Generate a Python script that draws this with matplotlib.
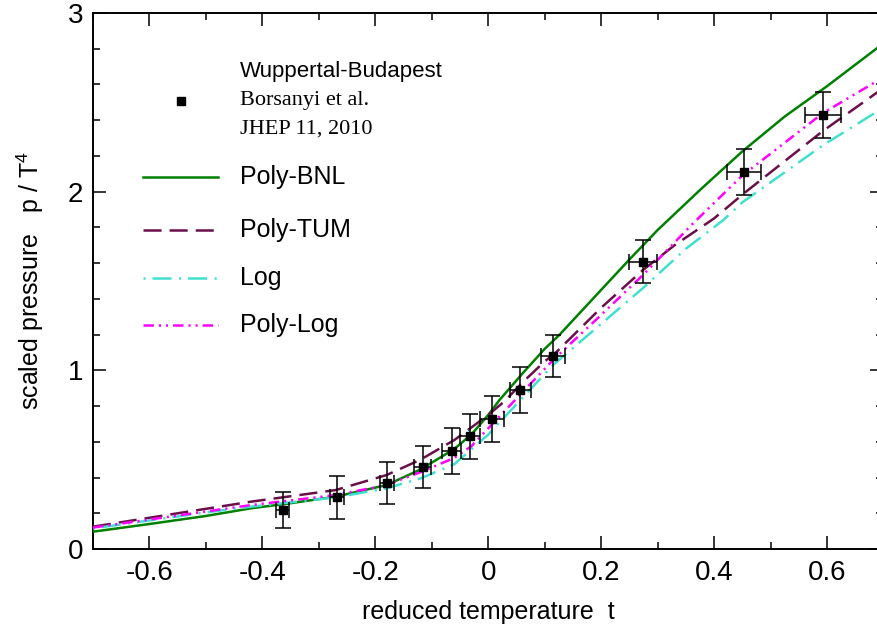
import matplotlib.pyplot as plt
from matplotlib.ticker import MultipleLocator, FuncFormatter

plt.rcParams['font.family'] = ['Liberation Sans', 'DejaVu Sans']
plt.rcParams['mathtext.default'] = 'regular'
plt.rcParams['lines.scale_dashes'] = False

# lattice data (Wuppertal-Budapest)
lat_t = [-0.364, -0.268, -0.179, -0.116, -0.0645, -0.032, 0.0065, 0.057, 0.1146, 0.274, 0.4527, 0.593]
lat_p = [0.218, 0.289, 0.371, 0.459, 0.548, 0.631, 0.729, 0.888, 1.080, 1.608, 2.111, 2.430]
lat_dp = [0.10, 0.12, 0.118, 0.12, 0.128, 0.127, 0.128, 0.129, 0.12, 0.12, 0.13, 0.13]
lat_dt = [0.012, 0.012, 0.013, 0.015, 0.017, 0.018, 0.021, 0.018, 0.022, 0.025, 0.03, 0.032]

# parametrisations
bnl_t = [-0.7, -0.6, -0.5, -0.42, -0.36, -0.27, -0.18, -0.12, -0.06, -0.03, 0.0, 0.02,
         0.06, 0.1, 0.126, 0.15, 0.2, 0.25, 0.3, 0.375, 0.45, 0.525, 0.6, 0.7]
bnl_p = [0.097, 0.14, 0.185, 0.228, 0.252, 0.293, 0.358, 0.445, 0.56, 0.64, 0.75, 0.834,
         0.98, 1.12, 1.198, 1.28, 1.45, 1.62, 1.785, 2.009, 2.225, 2.42, 2.59, 2.83]

tum_t = [-0.7, -0.6, -0.5, -0.42, -0.27, -0.18, -0.12, -0.06, -0.03, 0.0, 0.03, 0.06,
         0.1, 0.12, 0.2, 0.274, 0.33, 0.4, 0.4527, 0.593, 0.7]
tum_p = [0.125, 0.175, 0.225, 0.265, 0.33, 0.414, 0.50, 0.61, 0.68, 0.75, 0.83, 0.93,
         1.05, 1.10, 1.35, 1.561, 1.70, 1.85, 1.99, 2.34, 2.58]

log_t = [-0.7, -0.6, -0.5, -0.42, -0.27, -0.18, -0.12, -0.06, 0.0, 0.057, 0.115, 0.2,
         0.274, 0.35, 0.416, 0.45, 0.593, 0.7]
log_p = [0.115, 0.16, 0.205, 0.237, 0.289, 0.34, 0.395, 0.475, 0.64, 0.834, 1.03, 1.26,
         1.46, 1.68, 1.84, 1.94, 2.26, 2.47]

plog_t = [-0.7, -0.6, -0.5, -0.42, -0.27, -0.18, -0.12, -0.06, -0.03, 0.0, 0.06, 0.115,
          0.2, 0.274, 0.363, 0.45, 0.593, 0.7]
plog_p = [0.12, 0.165, 0.21, 0.246, 0.302, 0.358, 0.43, 0.51, 0.575, 0.675, 0.875, 1.058,
          1.31, 1.533, 1.823, 2.09, 2.44, 2.64]

curves = [
    ('Poly-BNL', bnl_t, bnl_p, '#008000', '-'),
    ('Poly-TUM', tum_t, tum_p, '#6b0f4a', (0, (13, 5.8))),
    ('Log', log_t, log_p, '#40e0d0', (0, (1.5, 5, 13.7, 5.4))),
    ('Poly-Log', plog_t, plog_p, '#ff00ff', (0, (7.5, 3.6, 1.5, 3.6, 1.5, 3.6))),
]
legend_y = [0.693, 0.595, 0.506, 0.417]

fig = plt.figure(figsize=(8.77, 6.39), dpi=100)
ax = fig.add_axes([0.106, 0.1408, 0.9014, 0.839])

# model curves + hand-placed legend samples
for (name, t, p, col, ls), ly in zip(curves, legend_y):
    ax.plot(t, p, color=col, ls=ls, lw=1.8, zorder=3)
    ax.plot([0.063, 0.158], [ly, ly], color=col, ls=ls, lw=1.8, transform=ax.transAxes)
    ax.text(0.186, ly, name, transform=ax.transAxes, fontsize=18, va='center')

ax.errorbar(lat_t, lat_p, yerr=lat_dp, xerr=lat_dt, fmt='s', color='black', ms=5.5,
            elinewidth=1.1, capsize=5.5, capthick=1.1, zorder=4)

# legend entry for the lattice data
ax.plot([0.111], [0.836], 's', color='black', ms=5.5, transform=ax.transAxes)
ax.text(0.186, 0.8905, 'Wuppertal-Budapest', transform=ax.transAxes, fontsize=16, va='center')
ax.text(0.186, 0.836, 'Borsanyi et al.', transform=ax.transAxes, fontsize=16, va='center',
        family='Liberation Serif')
ax.text(0.186, 0.783, 'JHEP 11, 2010', transform=ax.transAxes, fontsize=16, va='center',
        family='Liberation Serif')

ax.set_xlim(-0.7, 0.7)
ax.set_ylim(0, 3)
ax.xaxis.set_major_locator(MultipleLocator(0.2))
ax.xaxis.set_minor_locator(MultipleLocator(0.1))
ax.yaxis.set_major_locator(MultipleLocator(1))
ax.yaxis.set_minor_locator(MultipleLocator(0.2))
ax.xaxis.set_major_formatter(FuncFormatter(lambda v, _: '0' if abs(v) < 1e-9 else f'{v:g}'))
ax.tick_params(which='both', direction='in', top=True, right=True, width=1.1, labelsize=20)
ax.tick_params(which='major', length=9.5)
ax.tick_params(which='minor', length=4.8)
ax.tick_params(axis='x', pad=8)
ax.tick_params(axis='y', pad=7)
for s in ax.spines.values():
    s.set_linewidth(1.4)

ax.set_xlabel('reduced temperature  t', fontsize=18, labelpad=10)
ax.set_ylabel('scaled pressure   p / T$^{4}$', fontsize=18, labelpad=16)

fig.savefig('out.png')
